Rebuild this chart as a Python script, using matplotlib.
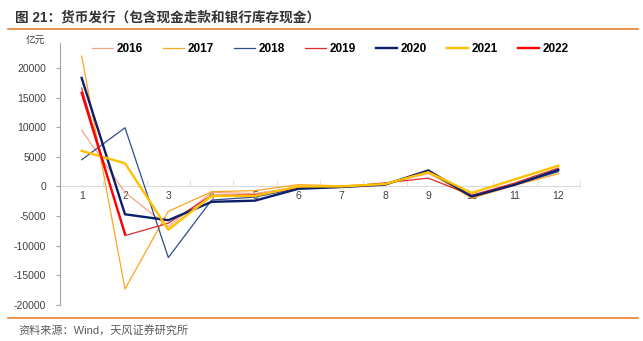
import matplotlib
matplotlib.use('Agg')
import matplotlib.pyplot as plt
from matplotlib.lines import Line2D

plt.rcParams['font.family'] = ['Liberation Sans', 'Noto Sans CJK SC']
plt.rcParams['axes.unicode_minus'] = False

# 月份
months = [1, 2, 3, 4, 5, 6, 7, 8, 9, 10, 11, 12]

# 各年货币发行（亿元）
y2016 = [9500, -1000, -6800, -1000, -1200, -100, -100, 400, 2200, -1500, 400, 2600]
y2017 = [22000, -17300, -4200, -900, -700, 300, 100, 500, 2400, -2000, 200, 2150]
y2018 = [4500, 9900, -12000, -2300, -1800, -300, -100, 400, 2500, -1700, 300, 2500]
y2019 = [16600, -8300, -6200, -1500, -1400, -300, -100, 600, 1400, -1500, 600, 3100]
y2020 = [18300, -4700, -5700, -2600, -2400, -400, -100, 300, 2700, -1700, 300, 2800]
y2021 = [6000, 3900, -7300, -1600, -1600, 0, 0, 400, 2400, -1100, 1200, 3500]
y2022 = [15800, -8000]

yticks = [-20000, -15000, -10000, -5000, 0, 5000, 10000, 15000, 20000]

series = [
    ('2016', y2016, '#F7A584', 0.9),
    ('2017', y2017, '#FFA41F', 0.9),
    ('2018', y2018, '#2F4C8A', 0.9),
    ('2019', y2019, '#DC2A2E', 0.9),
    ('2020', y2020, '#0B1F6A', 1.7),
    ('2021', y2021, '#FFC000', 1.7),
    ('2022', y2022, '#FF0000', 1.7),
]

fig = plt.figure(figsize=(6.43, 3.41), dpi=100)
ax = fig.add_axes([0.0933, 0.1056, 0.8087, 0.7684])

for name, vals, color, lw in series:
    ax.plot(months[:len(vals)], vals, color=color, lw=lw, label=name)

ax.set_xlim(0.5, 12.5)
ax.set_ylim(-20000, 24200)
ax.set_yticks(yticks)
ax.set_yticklabels([str(v) for v in yticks])

ax.spines['top'].set_visible(False)
ax.spines['right'].set_visible(False)
ax.spines['left'].set_color('#A6A6A6')
ax.spines['bottom'].set_position(('data', 0))
ax.spines['bottom'].set_color('#D9D9D9')
ax.spines['bottom'].set_zorder(0)

ax.set_xticks(months)
ax.set_xticks([m + 0.5 for m in [0] + months], minor=True)
ax.tick_params(axis='x', which='major', length=0, labelsize=7.5, colors='#404040', pad=3)
ax.tick_params(axis='x', which='minor', direction='in', length=4, color='#D9D9D9')
ax.tick_params(axis='y', length=3, color='#A6A6A6', labelsize=7.5, labelcolor='#404040', pad=7)

fig.text(0.04, 0.872, '亿元', fontsize=7, color='#404040')

handles = [Line2D([0], [0], color=c, lw=lw) for _, _, c, lw in series]
ax.legend(handles, [s[0] for s in series], loc='upper center', bbox_to_anchor=(0.52, 1.04),
          ncol=7, frameon=False, handlelength=1.8, handletextpad=0.3, columnspacing=1.7,
          prop={'size': 8.5, 'weight': 'bold'})

# 标题和来源
fig.text(0.023, 0.95, '图 21：货币发行（包含现金走款和银行库存现金）', fontsize=9.8,
         fontweight='bold', color='#333333', va='center')
fig.add_artist(Line2D([0.012, 0.993], [0.915, 0.915], color='#E8802E', lw=1.2))
fig.add_artist(Line2D([0.012, 0.993], [0.066, 0.066], color='#E8802E', lw=1.2))
fig.text(0.028, 0.032, '资料来源：Wind，天风证券研究所', fontsize=8, color='#595959', va='center')

fig.savefig('out.png', dpi=100)
